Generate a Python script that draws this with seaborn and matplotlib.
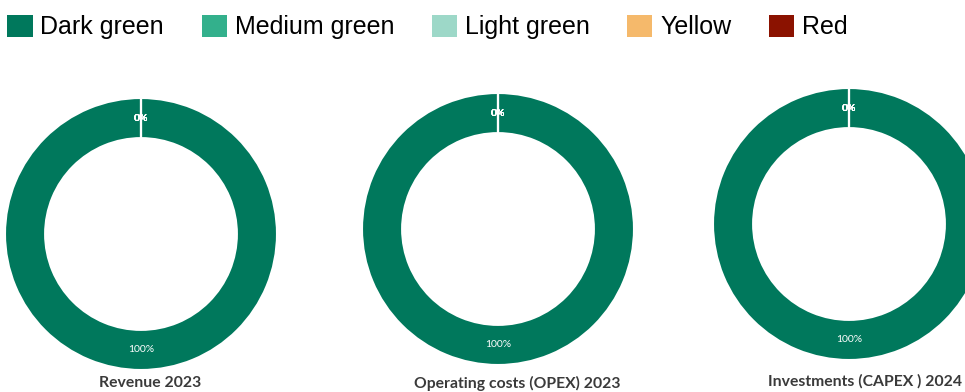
import numpy as np
import pandas as pd
import seaborn as sns
import matplotlib.pyplot as plt
from matplotlib.patches import Patch

categories = ['Dark green', 'Medium green', 'Light green', 'Yellow', 'Red']
palette = ['#00785C', '#33B08C', '#9DD8C8', '#F5B96B', '#8B1200']
chart_titles = ['Revenue 2023', 'Operating costs (OPEX) 2023', 'Investments (CAPEX ) 2024']
revenue_2023 = [100, 0, 0, 0, 0]
opex_2023 = [100, 0, 0, 0, 0]
capex_2024 = [100, 0, 0, 0, 0]

df = pd.DataFrame({'category': categories,
                   chart_titles[0]: revenue_2023,
                   chart_titles[1]: opex_2023,
                   chart_titles[2]: capex_2024})

sns.set_theme(style='white')
plt.rcParams['font.family'] = ['Liberation Sans', 'DejaVu Sans']

W, H = 965, 392
fig = plt.figure(figsize=(W / 100, H / 100), dpi=100)

# axes boxes in pixels: (left, bottom, size)
boxes = [(5, 22, 272), (362, 27, 272), (713, 32, 272)]
title_pos = [(150, 383), (517, 383), (865, 381)]

for title, (l, b, s), (tx, ty) in zip(chart_titles, boxes, title_pos):
    ax = fig.add_axes([l / W, b / H, s / W, s / H])
    vals = df[title].values
    wedges, texts, autotexts = ax.pie(
        vals, colors=palette, startangle=90, counterclock=False,
        radius=1.0, autopct='%1.0f%%', pctdistance=0.85,
        wedgeprops=dict(width=0.295, edgecolor='white', linewidth=1.5))
    for v, t in zip(vals, autotexts):
        t.set_color('white')
        t.set_fontsize(7.5)
        t.set_family(['Lato', 'DejaVu Sans'])
        if v == 0:
            t.set_fontweight('bold')
    ax.set_xlim(-1, 1)
    ax.set_ylim(-1, 1)
    ax.set_aspect('equal')
    ax.axis('off')
    fig.text(tx / W, 1 - ty / H, title, ha='center', va='center',
             fontsize=11.3, fontweight='bold', color='#3a3a3a',
             family=['Lato', 'DejaVu Sans'])

handles = [Patch(facecolor=c, edgecolor='none', label=n) for c, n in zip(palette, categories)]
leg = fig.legend(handles=handles, loc='upper left', bbox_to_anchor=(0.0, 1 - 7 / H),
                 ncol=5, frameon=False, fontsize=18, handlelength=1.0, handleheight=1.0,
                 handletextpad=0.32, columnspacing=1.5, borderaxespad=0.0,
                 borderpad=0.3)
for t in leg.get_texts():
    t.set_color('black')

fig.savefig('out.png', dpi=100)
